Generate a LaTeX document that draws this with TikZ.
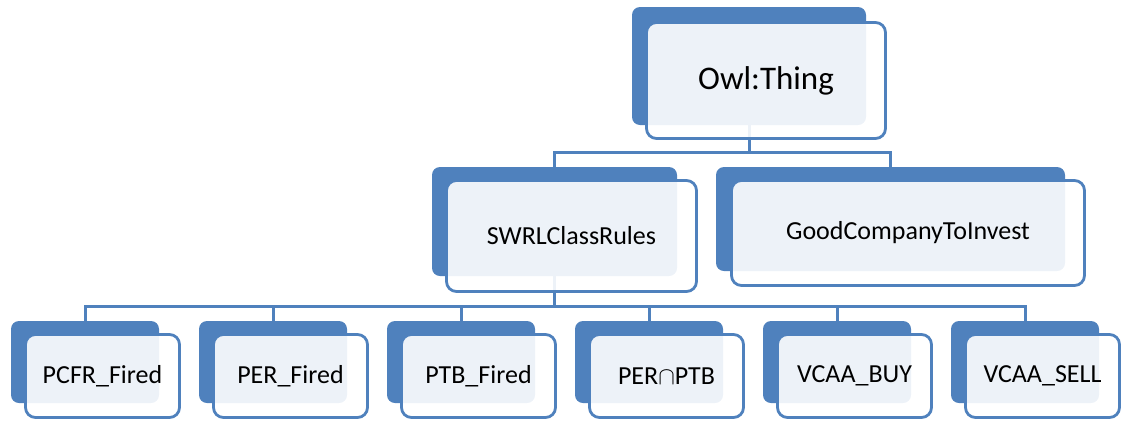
\documentclass[tikz,border=0pt]{standalone}
\usepackage{fontspec}
\setmainfont{Carlito}
\usetikzlibrary{calc}

\definecolor{owlblue}{HTML}{4F81BD}

\tikzset{
  back/.style={fill=owlblue, rounded corners=8pt, inner sep=0pt},
  front/.style={draw=owlblue, line width=2.8pt, fill=white, fill opacity=0.9,
    text opacity=1, rounded corners=10pt, inner sep=0pt, font=\fontsize{26}{30}\selectfont},
  leafback/.style={back, minimum width=148pt, minimum height=82pt},
  leaffront/.style={front, minimum width=154pt, minimum height=83pt},
  conn/.style={draw=owlblue, line width=3pt},
}

\begin{document}
\begin{tikzpicture}[x=1pt, y=-1pt]
            \useasboundingbox (0,0) rectangle (1123,421);
            \coordinate (bus1) at (0,152);
            \coordinate (bus2) at (0,306);
            % connectors first, the boxes lie over them
            \path[conn] (749,125) coordinate (owl-b) -- (owl-b |- bus1) -| (554.5,167);
            \path[conn] (owl-b |- bus1) -| (890.5,167);
            \path[conn] (554.5,276) coordinate (swrl-b) -- (swrl-b |- bus2);
            \foreach \i in {0,...,5}
                \path[conn] (swrl-b |- bus2) -| (85+188*\i,321);
            % top class
            \node[back, minimum width=234pt, minimum height=118pt] (owl) at (749,66) {};
            \node[front, minimum width=239pt, minimum height=116pt, font=\fontsize{33}{38}\selectfont] (owl-f) at (766,80.5) {Owl:Thing};
            % second level
            \node[back, minimum width=245pt, minimum height=109pt] (swrl) at (554.5,221.5) {};
            \node[front, minimum width=250pt, minimum height=111pt] (swrl-f) at (571.5,236) {SWRLClassRules};
            \node[back, minimum width=349pt, minimum height=104pt] (good) at (890.5,219) {};
            \node[front, minimum width=353pt, minimum height=105pt] (good-f) at (908,233) {GoodCompanyToInvest};
            % rules
            \foreach \n/\t [count=\i from 0] in {pcfr/PCFR\_Fired, per/PER\_Fired, ptb/PTB\_Fired,
                    perptb/PER$\cap$PTB, buy/VCAA\_BUY, sell/VCAA\_SELL} {
                \node[leafback] (\n) at (85+188*\i,362) {};
                \node[leaffront] (\n-f) at (102.5+188*\i,376) {\t};
            }
        \end{tikzpicture}
\end{document}
